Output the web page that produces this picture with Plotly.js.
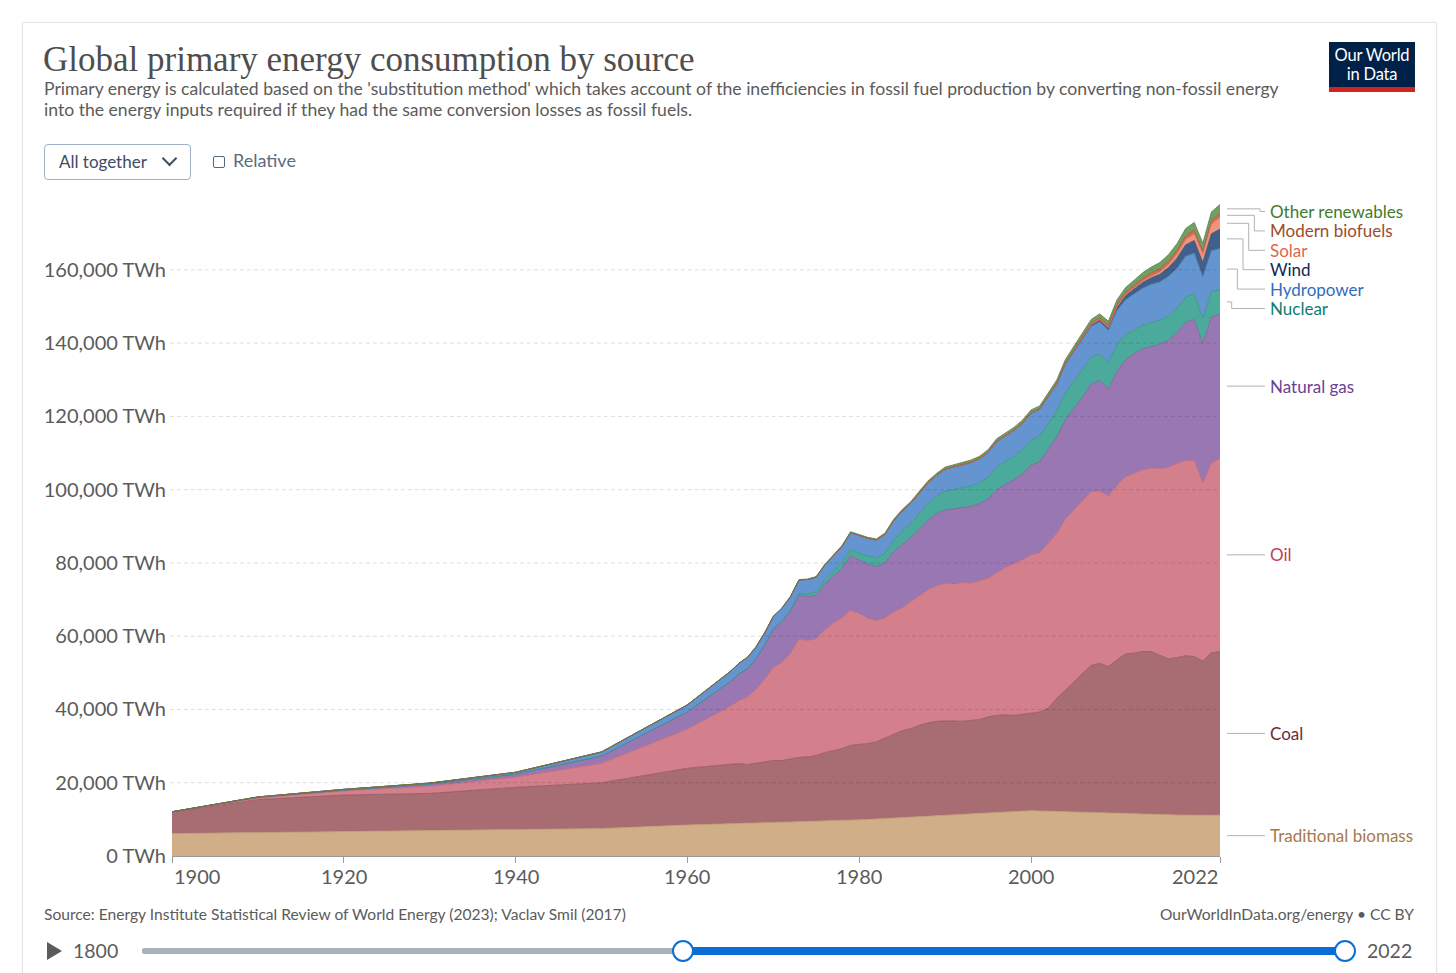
<!DOCTYPE html>
<html>
<head>
<meta charset="utf-8">
<script src="https://cdn.plot.ly/plotly-3.0.1.min.js"></script>
<style>
  html, body { margin:0; padding:0; background:#ffffff; width:1456px; height:973px; overflow:hidden; font-family:Lato, sans-serif; }
  #card { position:absolute; left:22px; top:22px; width:1413px; height:980px; border:1px solid #e4e4e4; border-radius:2px; box-shadow:0 0 3px rgba(0,0,0,0.05); }
  #plot { position:absolute; left:0; top:0; width:1456px; height:973px; }
  .ov { position:absolute; white-space:nowrap; }
  #title { left:43px; top:42px; font-family:"Liberation Serif", "DejaVu Serif", serif; font-size:35px; color:#4e4e4e; line-height:36px; }
  #subtitle { left:44px; top:78px; font-size:17.6px; line-height:21px; color:#5b5b5b; }
  #dropdown { left:44px; top:144px; width:145px; height:34px; border:1px solid #9fb0c2; border-radius:4px; }
  #dropdown span { position:absolute; left:14px; top:6px; font-size:17px; color:#3e4d62; }
  #chev { position:absolute; left:119px; top:8px; width:9px; height:9px; border-right:2px solid #3e4d62; border-bottom:2px solid #3e4d62; transform:rotate(45deg); }
  #cbox { left:213px; top:156px; width:10px; height:10px; border:1.5px solid #56667c; border-radius:2px; }
  #rel { left:233px; top:149px; font-size:18px; color:#5a6a80; }
  #logo { left:1329px; top:42px; width:86px; height:50px; background:#002147; }
  #logo .bar { position:absolute; left:0; bottom:0; width:86px; height:5px; background:#ce261e; }
  #logo .t { position:absolute; left:0; width:86px; text-align:center; color:#fff; font-size:16.5px; letter-spacing:-0.2px; line-height:19.5px; }
  #src { left:44px; top:905px; font-size:15.6px; color:#5b5b5b; }
  #cc { right:42px; top:905px; font-size:15.6px; color:#5b5b5b; }
  #play { left:47px; top:942px; width:0; height:0; border-top:9px solid transparent; border-bottom:9px solid transparent; border-left:15px solid #5b5b5b; }
  #y1800 { left:73px; top:939px; font-size:19.5px; color:#5b5b5b; }
  #y2022 { left:1367px; top:939px; font-size:19.5px; color:#5b5b5b; }
  #trackg { left:142px; top:948px; width:545px; height:6px; background:#a8b1be; border-radius:2px; }
  #trackb { left:683px; top:947px; width:662px; height:8px; background:#0b6ed6; }
  .knob { top:940px; width:18px; height:18px; border:2.5px solid #0b6ed6; border-radius:50%; background:#fff; }
</style>
</head>
<body>
<div id="card"></div>
<div id="plot"></div>
<div class="ov" id="title">Global primary energy consumption by source</div>
<div class="ov" id="subtitle">Primary energy is calculated based on the 'substitution method' which takes account of the inefficiencies in fossil fuel production by converting non-fossil energy<br>into the energy inputs required if they had the same conversion losses as fossil fuels.</div>
<div class="ov" id="dropdown"><span>All together</span><div id="chev"></div></div>
<div class="ov" id="cbox"></div>
<div class="ov" id="rel">Relative</div>
<div class="ov" id="logo"><div class="t" style="top:3.5px;">Our World</div><div class="t" style="top:23px;">in Data</div><div class="bar"></div></div>
<div class="ov" id="src">Source: Energy Institute Statistical Review of World Energy (2023); Vaclav Smil (2017)</div>
<div class="ov" id="cc">OurWorldInData.org/energy • CC BY</div>
<div class="ov" id="play"></div>
<div class="ov" id="y1800">1800</div>
<div class="ov" id="trackg"></div>
<div class="ov" id="trackb"></div>
<div class="ov knob" style="left:672px;"></div>
<div class="ov knob" style="left:1334px;"></div>
<div class="ov" id="y2022">2022</div>
<script>
// ---------------- DATA (TWh, estimated from the chart) ----------------
const years = [1900,1910,1920,1930,1940,1950,1960,
  1965,1966,1967,1968,1969,1970,1971,1972,1973,1974,1975,1976,1977,1978,1979,
  1980,1981,1982,1983,1984,1985,1986,1987,1988,1989,1990,1991,1992,1993,1994,
  1995,1996,1997,1998,1999,2000,2001,2002,2003,2004,2005,2006,2007,2008,2009,
  2010,2011,2012,2013,2014,2015,2016,2017,2018,2019,2020,2021,2022];

const traditionalBiomass = [6110,6390,6670,6940,7220,7500,8460,
  8900,8950,9010,9060,9100,9170,9220,9280,9330,9390,9450,9520,9590,9660,9740,
  9830,9960,10100,10230,10370,10500,10640,10780,10920,11050,11190,11310,11430,11550,11670,
  11790,11910,12030,12150,12270,12380,12310,12240,12170,12100,12020,11950,11870,11800,11720,
  11650,11560,11460,11370,11280,11190,11150,11150,11140,11130,11120,11110,11110];

const coal = [5730,9000,9980,10160,11530,12500,15500,
  16100,16300,15950,16250,16750,16900,16850,17150,17600,17650,18000,18750,19300,19650,20500,
  20600,20750,21100,21900,22900,23700,24100,24900,25400,25700,25700,25500,25350,25450,25600,
  26200,26500,26450,26250,26400,26600,27000,28100,30900,33200,35600,37900,40200,40800,40000,
  41900,43600,43900,44450,44500,43700,42650,43000,43550,43300,42100,44400,44700];

const oil = [180,480,1110,1950,2800,5300,10700,
  15900,17200,18500,20200,22400,25400,26800,28900,32300,31800,31900,33500,34700,35700,36900,
  35800,34200,33100,32900,33300,33600,34700,35300,36300,37000,37600,37400,37900,37500,37900,
  37800,38900,40300,41400,42200,43200,43500,45000,45000,46700,46900,47100,47400,47060,46600,
  47500,48400,49100,49600,50100,50900,52300,53100,53300,53500,48700,51700,52800];

const naturalGas = [60,150,230,550,800,2000,4700,
  6700,7200,7700,8400,9300,10400,11000,11500,12000,12000,11800,12500,12900,13500,14800,
  14700,14800,14700,15000,16500,17300,17500,18300,19000,19700,20000,20500,20500,20900,21000,
  21600,22700,22600,22900,23500,24500,24800,25600,26300,27100,27700,28300,29400,30100,29300,
  31200,31900,32700,33000,33200,33900,34700,35600,37700,38500,38000,39900,39300];

const nuclear = [0,0,0,0,0,0,0,
  70,90,110,140,180,220,300,400,530,700,1000,1150,1400,1650,1700,
  1850,2200,2350,2650,3150,3650,3900,4250,4600,4750,5100,5350,5400,5600,5750,
  6000,6250,6250,6400,6650,6850,7050,7150,7050,7350,7400,7500,7300,7250,7100,
  7300,6950,6400,6450,6550,6600,6700,6750,6900,7100,6800,7000,6700];

const hydropower = [0,100,200,300,500,1100,1900,
  2700,2850,2950,3050,3200,3300,3450,3550,3600,3950,4000,4050,4150,4400,4650,
  4750,4800,4900,5100,5250,5350,5400,5450,5600,5650,5950,6100,6100,6400,6450,
  6750,6850,6950,7000,7050,7300,7200,7300,7350,7750,8000,8300,8400,8750,8750,
  9300,9400,9850,10100,10400,10400,10700,10800,11100,11000,11300,11100,11200];

const wind = [0,0,0,0,0,0,0,
  0,0,0,0,0,0,0,0,0,0,0,0,0,0,0,
  0,0,0,0,0,2,3,4,6,8,10,12,14,17,20,
  25,30,35,55,65,85,110,150,180,230,280,350,450,590,750,
  930,1170,1370,1610,1790,2100,2430,2800,3130,3480,4010,4650,5300];

const solar = [0,0,0,0,0,0,0,
  0,0,0,0,0,0,0,0,0,0,0,0,0,0,0,
  0,0,0,0,0,0,0,0,0,0,0,0,0,0,0,
  0,0,0,0,0,3,4,5,6,7,11,15,20,30,50,
  85,170,260,370,500,660,850,1150,1450,1790,2150,2600,3200];

const modernBiofuels = [0,0,0,0,0,0,0,
  0,0,0,0,0,0,0,0,0,0,10,15,20,30,45,
  60,70,90,110,125,140,140,140,140,140,140,140,140,140,150,
  160,160,170,170,160,160,170,190,220,250,290,360,450,580,640,
  720,730,740,800,860,880,910,960,1040,1100,1040,1090,1150];

const otherRenewables = [0,0,0,0,0,0,0,
  60,65,70,75,80,90,95,100,110,120,130,140,150,160,170,
  180,200,220,250,290,320,350,380,410,440,470,490,510,530,560,
  580,600,630,650,670,700,710,750,790,840,880,920,970,1030,1090,
  1200,1280,1380,1480,1580,1680,1750,1850,1950,2050,2120,2250,2400];

const seriesNames = ["Traditional biomass","Coal","Oil","Natural gas","Nuclear","Hydropower","Wind","Solar","Modern biofuels","Other renewables"];
const seriesValues = [traditionalBiomass, coal, oil, naturalGas, nuclear, hydropower, wind, solar, modernBiofuels, otherRenewables];

const xTickYears = [1900,1920,1940,1960,1980,2000,2022];
const yTickValues = [0,20000,40000,60000,80000,100000,120000,140000,160000];
const yTickLabels = ["0 TWh","20,000 TWh","40,000 TWh","60,000 TWh","80,000 TWh","100,000 TWh","120,000 TWh","140,000 TWh","160,000 TWh"];

// ---------------- STYLE ----------------
const fillColors = ["#D0AE87","#A86C73","#D4808C","#9977B2","#4BAA9C","#6495D1","#40608C","#F2937E","#C6714F","#71A065"];
const lineColors = ["#BE9A70","#8F525A","#BE6676","#7D5C98","#33907F","#4B7BB6","#2E4B73","#DA735E","#A65533","#557F4A"];
const labelColors = ["#A67A4A","#6C2B36","#BF3F57","#6B3F93","#0F7C72","#2F6DBF","#0B2B56","#E0654F","#9E4B2A","#3F7B2E"];

const W = 1456, H = 973;
const plotLeft = 172, plotRight = 1220, plotTop = 201, plotBottom = 856;
const yMax = 178800;
const plotH = plotBottom - plotTop, plotW = plotRight - plotLeft;
const toPx = v => plotBottom - v / yMax * plotH;
const toVal = px => (plotBottom - px) / plotH * yMax;
const pxToPaperX = px => (px - plotLeft) / plotW;
const pxToPaperY = py => (plotBottom - py) / plotH;

const traces = seriesNames.map((name, i) => ({
  type: 'scatter', mode: 'lines', name: name,
  x: years, y: seriesValues[i],
  stackgroup: 'one',
  fillcolor: fillColors[i],
  line: { color: lineColors[i], width: 0.8 },
  hoverinfo: 'skip'
}));

const shapes = [];
const annotations = [];

// dashed gridlines drawn above the areas
yTickValues.forEach(v => {
  if (v === 0) return;
  shapes.push({ type:'line', xref:'paper', yref:'y', x0:-0.002, x1:1, y0:v, y1:v, layer:'above',
    line:{ color:'rgba(0,0,0,0.13)', width:1, dash:'4px,3px' } });
});

// x tick labels
xTickYears.forEach((yr, k) => {
  annotations.push({ xref:'x', yref:'paper', x:yr, y:pxToPaperY(876), showarrow:false,
    text:String(yr), xanchor: k === 0 ? 'left' : (k === xTickYears.length - 1 ? 'right' : 'center'),
    yanchor:'middle', font:{ family:'Lato, sans-serif', size:20, color:'#5b5b5b' } });
});

// right-side labels with connectors
const last = years.length - 1;
let cum = 0;
const items = seriesNames.map((name, i) => {
  const v = seriesValues[i][last];
  const mid = cum + v / 2;
  cum += v;
  return { i, name, midPx: toPx(mid) };
});
const ordered = items.slice().sort((a, b) => a.midPx - b.midPx);
const gap = 19.4;
let prev = null;
ordered.forEach(it => {
  let y = it.midPx;
  if (prev === null) y = Math.max(y, plotTop + 10.5);
  else y = Math.max(y, prev + gap);
  it.labelPx = y;
  prev = y;
});
const moved = ordered.filter(it => Math.abs(it.labelPx - it.midPx) > 0.5);
const xStart = 1227, xEnd = 1265, xLabel = 1268;
ordered.forEach(it => {
  const k = moved.indexOf(it);
  let path;
  if (k >= 0) {
    const ex = 1231.7 + (moved.length - 1 - k) * 5.66;
    path = 'M ' + pxToPaperX(xStart) + ',' + toVal(it.midPx) +
           ' L ' + pxToPaperX(ex) + ',' + toVal(it.midPx) +
           ' L ' + pxToPaperX(ex) + ',' + toVal(it.labelPx) +
           ' L ' + pxToPaperX(xEnd) + ',' + toVal(it.labelPx);
  } else {
    path = 'M ' + pxToPaperX(xStart) + ',' + toVal(it.midPx) + ' L ' + pxToPaperX(xEnd) + ',' + toVal(it.labelPx);
  }
  shapes.push({ type:'path', xref:'paper', yref:'y', path:path, line:{ color:'#b3b3b3', width:1 } });
  annotations.push({ xref:'paper', yref:'y', x:pxToPaperX(xLabel), y:toVal(it.labelPx), xanchor:'left', yanchor:'middle',
    showarrow:false, text:it.name, font:{ family:'Lato, sans-serif', size:17, color:labelColors[it.i] } });
});

const layout = {
  width: W, height: H,
  margin: { l: plotLeft, r: W - plotRight, t: plotTop, b: H - plotBottom, pad: 0 },
  paper_bgcolor: 'rgba(0,0,0,0)', plot_bgcolor: 'rgba(0,0,0,0)',
  showlegend: false,
  font: { family: 'Lato, sans-serif', color: '#5b5b5b' },
  xaxis: { range: [1900, 2022], tickvals: xTickYears, showticklabels: false, ticks: 'outside', ticklen: 6,
    tickcolor: '#9a9a9a', showline: true, linecolor: '#9a9a9a', linewidth: 1, showgrid: false, zeroline: false, fixedrange: true },
  yaxis: { range: [0, yMax], tickvals: yTickValues, ticktext: yTickLabels, ticks: '', showgrid: false, zeroline: false,
    showline: false, ticklabelstandoff: 5, tickfont: { family: 'Lato, sans-serif', size: 20, color: '#5b5b5b' }, fixedrange: true },
  shapes: shapes,
  annotations: annotations
};

Plotly.newPlot('plot', traces, layout, { staticPlot: true, displayModeBar: false });
</script>
</body>
</html>
